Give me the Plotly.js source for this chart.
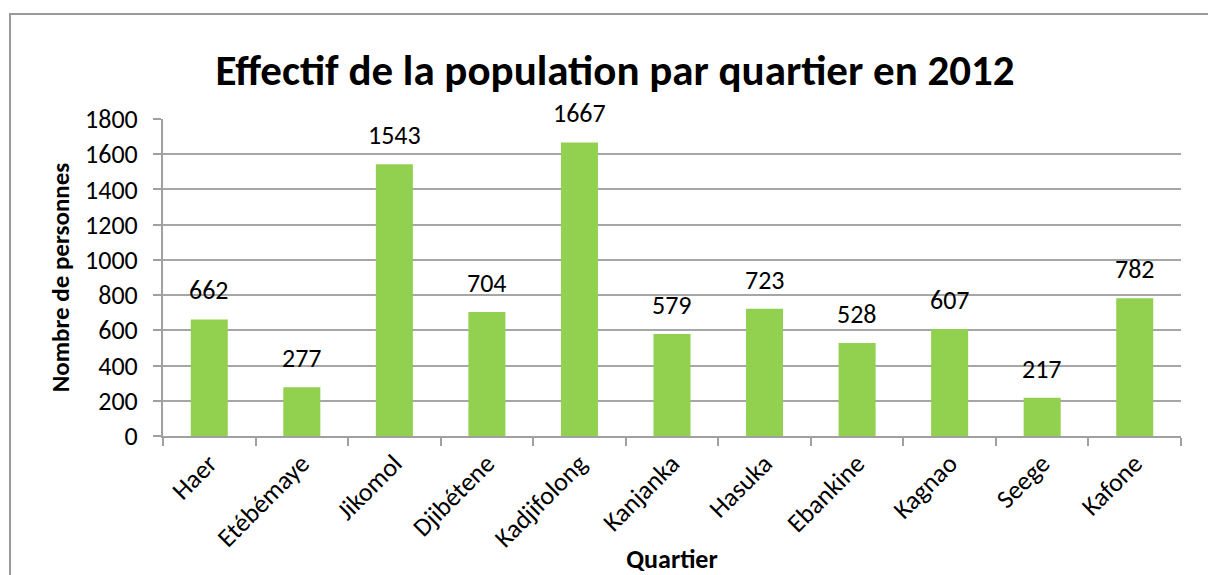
<!DOCTYPE html>
<html>
<head>
<meta charset="utf-8">
<script src="https://cdn.plot.ly/plotly-3.0.1.min.js"></script>
<style>
  html, body { margin: 0; padding: 0; background: #fff; }
  #wrap { position: relative; width: 1208px; height: 575px; overflow: hidden; }
  #frame { position: absolute; left: 9px; top: 13px; width: 1300px; height: 700px; border: 2px solid #9a9a9a; box-sizing: border-box; pointer-events: none; }
  #chart { position: absolute; left: 0; top: 0; width: 1208px; height: 575px; }
</style>
</head>
<body>
<div id="wrap">
  <div id="chart"></div>
  <div id="frame"></div>
</div>
<script>
const quartiers = ["Haer", "Etébémaye", "Jikomol", "Djibétene", "Kadjifolong", "Kanjanka", "Hasuka", "Ebankine", "Kagnao", "Seege", "Kafone"];
const effectifs = [662, 277, 1543, 704, 1667, 579, 723, 528, 607, 217, 782];
const yTicks = [0, 200, 400, 600, 800, 1000, 1200, 1400, 1600, 1800];

const FONT = "Carlito, Lato, 'Open Sans', sans-serif";

const trace = {
  type: "bar",
  x: quartiers,
  y: effectifs,
  marker: { color: "#92D050" },
  width: 0.4,
  hoverinfo: "x+y"
};

const annotations = quartiers.map((q, i) => ({
  x: q, y: effectifs[i], xref: "x", yref: "y",
  text: String(effectifs[i]), showarrow: false,
  yanchor: "bottom", yshift: 11,
  font: { family: FONT, size: 26, color: "#000" }
}));

const layout = {
  width: 1208, height: 575,
  margin: { l: 163, r: 27, t: 119, b: 139 },
  paper_bgcolor: "rgba(0,0,0,0)",
  plot_bgcolor: "rgba(0,0,0,0)",
  showlegend: false,
  bargap: 0.6,
  title: {
    text: "<b>Effectif de la population par quartier en 2012</b>",
    font: { family: FONT, size: 43, color: "#000" },
    x: 615 / 1208, xref: "container", xanchor: "center",
    y: 1 - 70 / 575, yref: "container", yanchor: "middle"
  },
  xaxis: {
    type: "category",
    tickangle: -45,
    ticks: "outside", ticklen: 8, tickwidth: 2, tickcolor: "#a0a0a0",
    tickson: "boundaries",
    showline: true, linecolor: "#a0a0a0", linewidth: 2,
    showgrid: false,
    tickfont: { family: FONT, size: 26, color: "#000" },
    title: { text: "<b>Quartier</b>", font: { family: FONT, size: 26, color: "#000" }, standoff: 12 },
    fixedrange: true
  },
  yaxis: {
    range: [0, 1800],
    tickvals: yTicks,
    ticktext: yTicks.map(String),
    ticks: "outside", ticklen: 8, tickwidth: 2, tickcolor: "#a0a0a0",
    showline: true, linecolor: "#a0a0a0", linewidth: 2,
    showgrid: true, gridcolor: "#a6a6a6", gridwidth: 1.5,
    zeroline: false,
    ticklabelstandoff: 10,
    tickfont: { family: FONT, size: 26, color: "#000" },
    title: { text: "<b>Nombre de personnes</b>", font: { family: FONT, size: 25, color: "#000" }, standoff: 8 },
    fixedrange: true
  },
  annotations: annotations
};

Plotly.newPlot("chart", [trace], layout, { displayModeBar: false });
</script>
</body>
</html>
